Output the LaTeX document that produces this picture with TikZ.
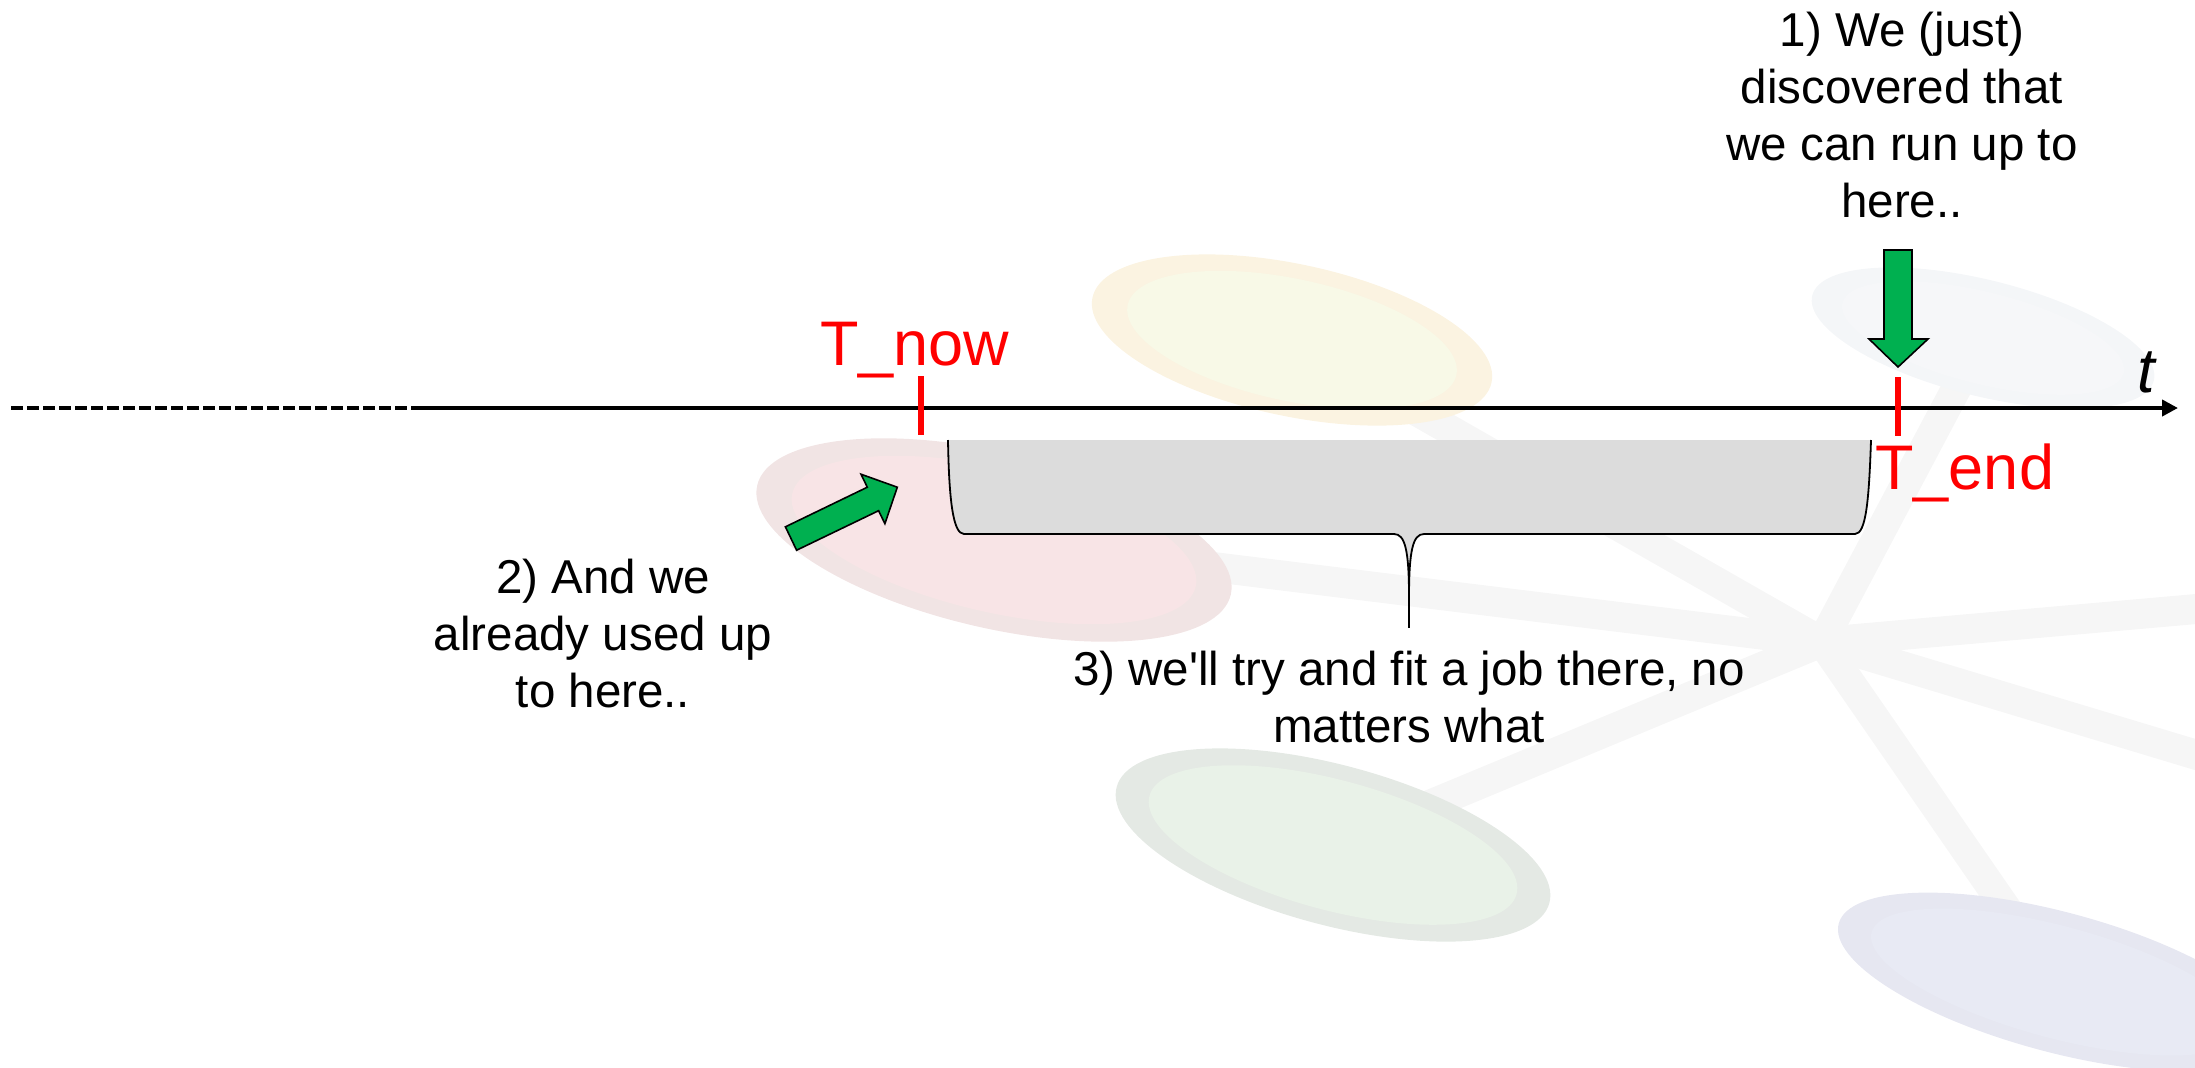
\documentclass[tikz,border=0pt]{standalone}
\usepackage{fontspec}
\setmainfont{Liberation Sans}[Ligatures=NoCommon]
\usetikzlibrary{arrows.meta}
\definecolor{pgreen}{HTML}{00B050}
\definecolor{bracegray}{HTML}{DCDCDC}
\definecolor{bar}{HTML}{F6F6F6}
\definecolor{yO}{HTML}{FBF3E1}\definecolor{yI}{HTML}{F8F9E7}
\definecolor{rO}{HTML}{F1E4E4}\definecolor{rI}{HTML}{F8E4E6}
\definecolor{gO}{HTML}{E4E9E4}\definecolor{gI}{HTML}{E9F2E8}
\definecolor{bO}{HTML}{E6E7F1}\definecolor{bI}{HTML}{E8EAF4}
\definecolor{wO}{HTML}{F4F6F8}\definecolor{wI}{HTML}{F6F7F9}
\newcommand\straightquote{\XeTeXglyph\XeTeXcharglyph"0027\relax}
\begin{document}
\begin{tikzpicture}[x=0.5pt,y=-0.5pt,
  wmbar/.style={line width=15pt,draw=bar,line cap=round},
  blacktext/.style={font=\fontsize{23.75pt}{28.5pt}\selectfont,align=center,inner sep=0pt,text=black},
  redtext/.style={font=\fontsize{31.5pt}{36pt}\selectfont,inner sep=0pt,text=red},
  tick/.style={draw=red,line width=2.6pt},
  axisline/.style={draw=black,line width=2pt},
  blockarrow/.style={fill=pgreen,draw=black,line width=0.8pt,line join=miter}]
\useasboundingbox (0,0) rectangle (2195,1067);
% ---------- faint background watermark ----------
\coordinate (hub) at (1822,642);
\coordinate (cY) at (1292,340);
\coordinate (cR) at (994,540);
\coordinate (cG) at (1333,845);
\coordinate (cB) at (2057,982);
\coordinate (cW) at (1983,338);
\coordinate (eU) at (2230,606);
\coordinate (eL) at (2230,765);
\draw[wmbar] (hub) -- (cY);
\draw[wmbar] (hub) -- (cR);
\draw[wmbar] (hub) -- (cG);
\draw[wmbar] (hub) -- (cB);
\draw[wmbar] (hub) -- (cW);
\draw[wmbar] (hub) -- (eU);
\draw[wmbar] (hub) -- (eL);
\fill[yO,rotate around={-12:(cY)}] (cY) ellipse [x radius=204,y radius=76];
\fill[yI,rotate around={-12:(cY)}] (cY) ellipse [x radius=168,y radius=61];
\fill[rO,rotate around={-13:(cR)}] (cR) ellipse [x radius=243,y radius=88];
\fill[rI,rotate around={-13:(cR)}] (cR) ellipse [x radius=207,y radius=72];
\fill[gO,rotate around={-15:(cG)}] (cG) ellipse [x radius=224,y radius=80];
\fill[gI,rotate around={-15:(cG)}] (cG) ellipse [x radius=190,y radius=65];
\fill[bO,rotate around={-15:(cB)}] (cB) ellipse [x radius=226,y radius=70];
\fill[bI,rotate around={-15:(cB)}] (cB) ellipse [x radius=192,y radius=56];
\fill[wO,rotate around={-14:(cW)}] (cW) ellipse [x radius=176,y radius=58];
\fill[wI,rotate around={-14:(cW)}] (cW) ellipse [x radius=145,y radius=46];
% ---------- time axis ----------
\coordinate (axL) at (11,408);
\coordinate (axM) at (418,408);
\coordinate (axR) at (2178,408);
\draw[axisline,dash pattern=on 6pt off 2pt] (axL) -- (axM);
\draw[axisline,-{Triangle[length=8pt,width=8pt]}] (axM) -- (axR);
\node[font=\fontsize{31.5pt}{36pt}\selectfont\itshape,inner sep=0pt,anchor=base west] (tlab) at (2137,392) {t};
% ---------- ticks and labels ----------
\coordinate (nowTop) at (921,376);
\coordinate (nowBot) at (921,435);
\coordinate (endTop) at (1898,377);
\coordinate (endBot) at (1898,436);
\draw[tick] (nowTop) -- (nowBot);
\draw[tick] (endTop) -- (endBot);
\node[redtext,anchor=base west] (tnow) at (820,365) {T\_now};
\node[redtext,anchor=base west] (tend) at (1875,489) {T\_end};
% ---------- brace ----------
\coordinate (bTL) at (948,440);
\coordinate (bTR) at (1871,440);
\coordinate (bTip) at (1409,628);
\fill[bracegray] (bTL) -- (bTR) .. controls (1869,500) and (1866,534) .. (1855,534)
  -- (1424,534) .. controls (1413,534) and (1409,550) .. (1409,597)
  .. controls (1409,550) and (1405,534) .. (1394,534)
  -- (964,534) .. controls (953,534) and (949,500) .. (bTL) -- cycle;
\draw[black,line width=0.9pt] (bTR) .. controls (1869,500) and (1866,534) .. (1855,534)
  -- (1424,534) .. controls (1413,534) and (1409,550) .. (1409,597)
  .. controls (1409,550) and (1405,534) .. (1394,534)
  -- (964,534) .. controls (953,534) and (949,500) .. (bTL);
\draw[black,line width=0.9pt] (1409,597) -- (bTip);
% ---------- green block arrows ----------
\draw[blockarrow] (1884,250) -- (1912,250) -- (1912,339) -- (1928,339) -- (1898,367)
  -- (1869,339) -- (1884,339) -- cycle;
\draw[blockarrow] (796.6,550.2) -- (878.6,510.7) -- (884.9,523.7) -- (897.3,487.2)
  -- (861.0,474.2) -- (867.3,487.2) -- (785.4,526.8) -- cycle;
% ---------- texts (anchor = baseline of the last line) ----------
\node[blacktext,anchor=base] (txt1) at (1902,217) {1) We (just)\\discovered that\\we can run up to\\here..};
\node[blacktext,anchor=base] (txt2) at (603,707) {2) And we\\already used up\\to here..};
\node[blacktext,anchor=base] (txt3) at (1409,742) {3) we\straightquote ll try and fit a job there, no\\matters what};
\end{tikzpicture}
\end{document}
